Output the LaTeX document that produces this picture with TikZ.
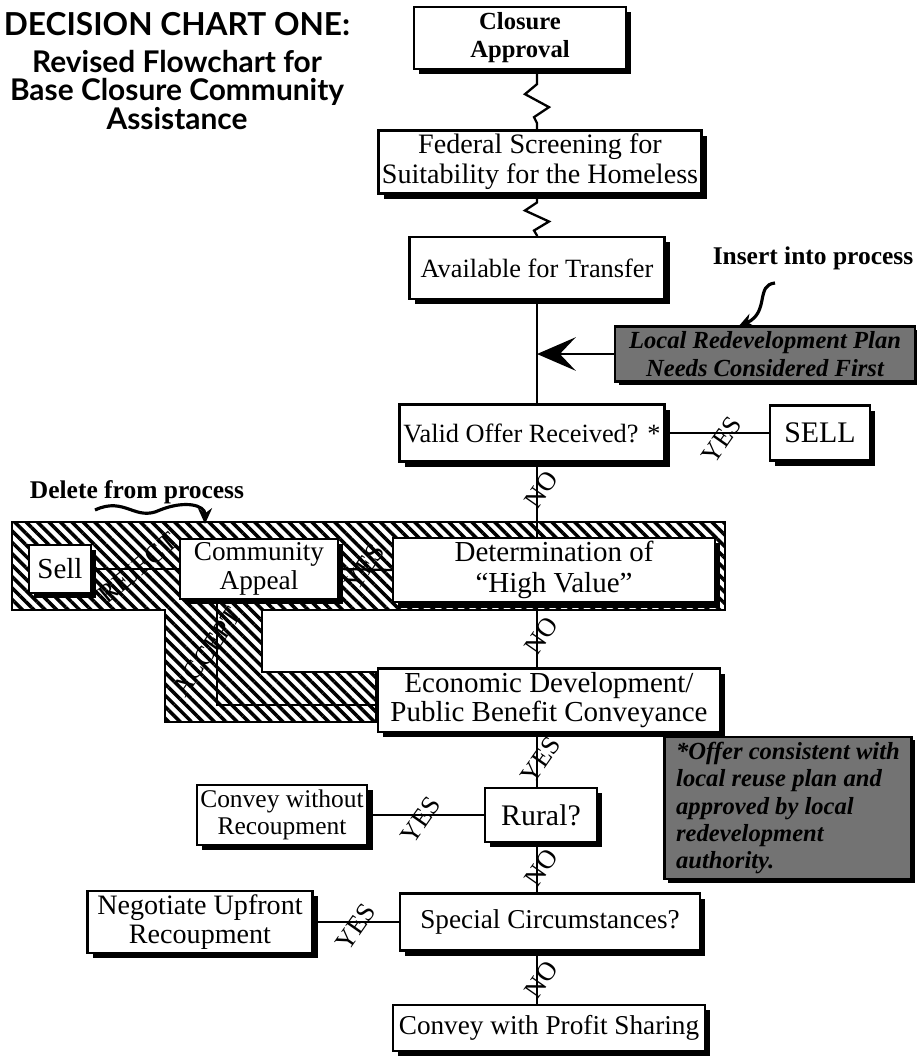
\documentclass[tikz,border=0pt]{standalone}
\usepackage{fontspec}
\setmainfont{Liberation Serif}
\newfontfamily\titlefont{Lato}
\usetikzlibrary{arrows.meta,shadows,patterns.meta,calc}
\newcommand{\fs}[1]{\fontsize{#1}{#1}\selectfont}
\begin{document}
\begin{tikzpicture}[x=0.02cm,y=-0.02cm,
  box/.style={draw, line width=1.3pt, fill=white, align=center, inner sep=2pt,
    font=\fontsize{15}{16}\selectfont,
    drop shadow={shadow xshift=3pt, shadow yshift=-3pt, opacity=1, fill=black}},
  greybox/.style={draw, line width=1.6pt, fill=black!55, align=left, inner sep=3pt,
    text=black, font=\itshape\bfseries\fontsize{14}{15.5}\selectfont,
    drop shadow={shadow xshift=2pt, shadow yshift=-2pt, opacity=1, fill=black}},
  conn/.style={line width=1.3pt},
  lab/.style={font=\fontsize{15}{15}\selectfont, rotate=55, inner sep=0pt},
  hatch/.style={preaction={fill=white}, pattern={Lines[angle=-45,distance=4.6pt,line width=2pt]}, draw, line width=0.8pt},
  note/.style={font=\bfseries\fontsize{14.5}{16}\selectfont},
  ttl/.style={font=\titlefont\bfseries\fontsize{17}{16}\selectfont, align=center}
]
\path[use as bounding box] (0,0) rectangle (917,1056);

% title
\node[ttl, font=\titlefont\bfseries\fontsize{18}{20}\selectfont] (t1) at (177,24) {DECISION CHART ONE:};
\node[ttl] (t2) at (177,90) {Revised Flowchart for\\Base Closure Community\\Assistance};

\coordinate (spine) at (537,0);
\coordinate (accx) at (217,0);

% hatched "delete" region
\path[hatch] (12,522) -- (725,522) -- (725,610) -- (262,610) -- (262,672) -- (376,672)
   -- (376,722) -- (165,722) -- (165,610) -- (12,610) -- cycle;

% nodes
\node[box, font=\bfseries\fs{14}, minimum width=4.24cm, minimum height=1.24cm] (closure) at (520,38) {Closure\\[2pt]Approval};
\node[box, font=\fontsize{16}{17}\selectfont, minimum width=6.4cm, minimum height=1.2cm] (federal) at (540,162) {Federal Screening for\\Suitability for the Homeless};
\node[box, minimum width=5.1cm, minimum height=1.24cm] (avail) at (537,268) {Available for Transfer};
\node[greybox, align=center, minimum width=6.0cm, minimum height=1.05cm] (g1) at (765,354) {Local Redevelopment Plan\\Needs Considered First};
\node[box, font=\fs{15}, minimum width=5.3cm, minimum height=1.14cm] (valid) at (532,433) {Valid Offer Received? *};
\node[box, font=\fs{17}, minimum width=2.0cm, minimum height=1.1cm] (sell) at (820,433) {SELL};
\node[box, font=\fontsize{16.5}{17.5}\selectfont, minimum width=6.44cm, minimum height=1.2cm] (det) at (554,570) {Determination of\\“High Value”};
\node[box, font=\fontsize{15.5}{16.5}\selectfont, minimum width=3.16cm, minimum height=1.16cm] (comm) at (259,569) {Community\\Appeal};
\node[box, font=\fs{16.5}, minimum width=1.24cm, minimum height=0.96cm] (sellL) at (60,569) {Sell};
\node[box, font=\fontsize{16.5}{17}\selectfont, minimum width=6.84cm, minimum height=1.24cm] (econ) at (549,700) {Economic Development/\\Public Benefit Conveyance};
\node[box, font=\fs{17}, minimum width=2.24cm, minimum height=1.08cm] (rural) at (541,815) {Rural?};
\node[box, font=\fontsize{14.5}{15}\selectfont, minimum width=3.1cm, minimum height=1.2cm] (cwo) at (282,815) {Convey without\\Recoupment};
\node[box, font=\fs{15.5}, minimum width=6.0cm, minimum height=1.14cm] (special) at (550,922) {Special Circumstances?};
\node[box, font=\fontsize{16}{16.5}\selectfont, minimum width=4.5cm, minimum height=1.14cm] (negot) at (200,922) {Negotiate Upfront\\Recoupment};
\node[box, font=\fs{15.5}, minimum width=6.24cm, minimum height=0.92cm] (profit) at (549,1028) {Convey with Profit Sharing};
\node[greybox, minimum width=4.94cm, minimum height=2.8cm] (g2) at (788,808) {*Offer consistent with\\local reuse plan and\\approved by local\\redevelopment\\authority.};

% notes
\node[note] (ins) at (813,258) {Insert into process};
\node[note] (del) at (137,492) {Delete from process};

% connectors
\draw[conn] (closure.south -| spine) -- ++(0,14) -- ++(-12,10) -- ++(24,13) -- ++(-15,10) -- ++(3,6) -- (federal.north -| spine);
\draw[conn] (federal.south -| spine) -- ++(0,8) -- ++(-12,8) -- ++(24,11) -- ++(-15,9) -- ++(3,5) -- (avail.north -| spine);
\draw[conn] (avail.south -| spine) -- (valid.north -| spine);
\draw[line width=1.6pt, -{Stealth[length=22pt,width=19pt,inset=9pt]}] (g1.west) -- (g1.west -| spine);
\draw[conn] (valid.east) -- (sell.west);
\draw[conn] (valid.south -| spine) -- (det.north -| spine);
\draw[conn] (sellL.east) -- (comm.west);
\draw[conn] (comm.east) -- (det.west);
\draw[conn] (comm.south -| accx) |- ($(econ.west)+(0,5)$);
\draw[conn] (det.south -| spine) -- (econ.north -| spine);
\draw[conn] (econ.south -| spine) -- (rural.north -| spine);
\draw[conn] (rural.west) -- (cwo.east);
\draw[conn] (rural.south -| spine) -- (special.north -| spine);
\draw[conn] (special.west) -- (negot.east);
\draw[conn] (special.south -| spine) -- (profit.north -| spine);

% note arrows
\coordinate (ia) at (775,283);
\coordinate (ib) at (738,327);
\draw[line width=1.8pt, -{Stealth[length=9pt,width=8pt]}] (ia) .. controls (755,285) and (770,312) .. (ib);
\coordinate (da) at (95,510);
\coordinate (db) at (205,524);
\draw[line width=1.8pt, -{Stealth[length=9pt,width=8pt]}] (da) .. controls (125,496) and (135,522) .. (160,510) .. controls (185,500) and (205,505) .. (db);

% labels
\node[lab] (l1) at (722,440) {YES};
\node[lab] (l2) at (541,490) {NO};
\node[lab] (l3) at (365,567) {YES};
\node[lab, rotate=-15] (l4) at (138,568) {REJECT};
\node[lab] (l5) at (207,652) {ACCEPT};
\node[lab] (l6) at (541,636) {NO};
\node[lab] (l7) at (541,760) {YES};
\node[lab] (l8) at (421,820) {YES};
\node[lab] (l9) at (541,868) {NO};
\node[lab] (l10) at (356,927) {YES};
\node[lab] (l11) at (541,980) {NO};
\end{tikzpicture}
\end{document}
